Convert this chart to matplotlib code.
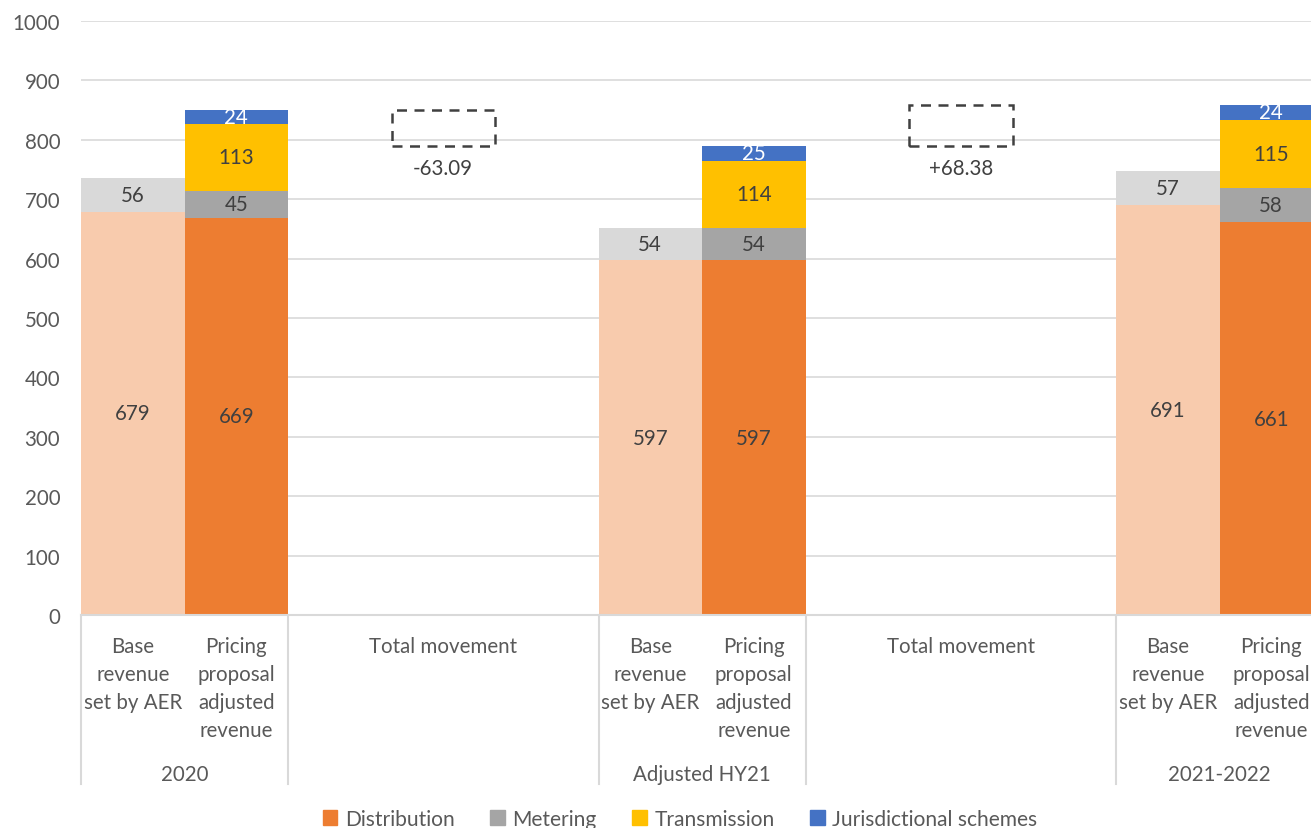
import matplotlib
matplotlib.use("Agg")
import matplotlib.pyplot as plt
import matplotlib.transforms as mtransforms
from matplotlib.patches import Patch
import numpy as np

plt.rcParams['font.family'] = ['Lato', 'DejaVu Sans']

# ---- data ----
periods = ["2020", "Adjusted HY21", "2021-2022"]
bar_labels = ["Base\nrevenue\nset by AER", "Pricing\nproposal\nadjusted\nrevenue"]
movement_label = "Total movement"
movement_values = ["-63.09", "+68.38"]

base_distribution = [679, 597, 691]
base_metering = [56, 54, 57]

pricing_distribution = [669, 597, 661]
pricing_metering = [45, 54, 58]
pricing_transmission = [113, 114, 115]
pricing_jurisdictional = [24, 25, 24]

series_names = ["Distribution", "Metering", "Transmission", "Jurisdictional schemes"]

# ---- style ----
C_DIST = "#ED7D31"
C_DIST_L = "#F8CBAD"
C_MET = "#A5A5A5"
C_MET_L = "#D9D9D9"
C_TRANS = "#FFC000"
C_JUR = "#4472C4"
LBL = "#404040"
AX = "#595959"
GRID = "#D9D9D9"
FS = 14.8

fig = plt.figure(figsize=(13.11, 8.29), dpi=100)
ax = fig.add_axes([81/1311, 1 - 616/829, 1 - 81/1311, (616 - 22)/829])

# slot positions: group g -> base at 5g, pricing at 5g+1, movement slots 5g+2..5g+4
base_x = np.array([0, 5, 10])
pricing_x = base_x + 1
move_x = np.array([3, 8])
w = 1.0

ax.set_ylim(0, 1000)
ax.set_xlim(-0.5, -0.5 + (1311 - 81) / 103.5)
ax.set_yticks(np.arange(0, 1001, 100))
ax.yaxis.grid(True, color=GRID, lw=1.2)
ax.set_axisbelow(True)
for s in ["top", "right", "left"]:
    ax.spines[s].set_visible(False)
ax.spines["bottom"].set_color(GRID)
ax.spines["bottom"].set_linewidth(1.5)
ax.tick_params(axis="y", length=0, pad=15, labelsize=FS, labelcolor=AX)
ax.tick_params(axis="x", length=0, labelbottom=False)

def seg_label(x, bottom, h, txt, color=LBL):
    ax.text(x, bottom + h / 2, txt, ha="center", va="center", fontsize=FS, color=color)

# base bars
ax.bar(base_x, base_distribution, width=w, color=C_DIST_L)
ax.bar(base_x, base_metering, width=w, bottom=base_distribution, color=C_MET_L)
for i, x in enumerate(base_x):
    seg_label(x, 0, base_distribution[i], str(base_distribution[i]))
    seg_label(x, base_distribution[i], base_metering[i], str(base_metering[i]))

# pricing bars
pd_ = np.array(pricing_distribution)
pm = np.array(pricing_metering)
pt = np.array(pricing_transmission)
pj = np.array(pricing_jurisdictional)
ax.bar(pricing_x, pd_, width=w, color=C_DIST)
ax.bar(pricing_x, pm, width=w, bottom=pd_, color=C_MET)
ax.bar(pricing_x, pt, width=w, bottom=pd_ + pm, color=C_TRANS)
ax.bar(pricing_x, pj, width=w, bottom=pd_ + pm + pt, color=C_JUR)
for i, x in enumerate(pricing_x):
    seg_label(x, 0, pd_[i], str(pd_[i]))
    seg_label(x, pd_[i], pm[i], str(pm[i]))
    seg_label(x, pd_[i] + pm[i], pt[i], str(pt[i]))
    seg_label(x, pd_[i] + pm[i] + pt[i], pj[i], str(pj[i]), color="white")

# movement boxes
totals = pd_ + pm + pt + pj
for k, x in enumerate(move_x):
    lo = min(totals[k], totals[k + 1])
    hi = max(totals[k], totals[k + 1])
    ax.bar(x, hi - lo, width=w, bottom=lo, fill=False, edgecolor=LBL,
           linestyle=(0, (4, 3)), linewidth=1.8)
    ax.text(x, lo - 38, movement_values[k], ha="center", va="center",
            fontsize=FS, color=LBL)

# category axis labels
trans = mtransforms.blended_transform_factory(ax.transData, ax.transAxes)
for g in range(3):
    for j in range(2):
        ax.annotate(bar_labels[j], xy=(base_x[g] + j, 0), xycoords=trans,
                    xytext=(0, -15), textcoords="offset points",
                    ha="center", va="top", fontsize=FS, color=AX,
                    linespacing=1.5, annotation_clip=False)
    ax.annotate(periods[g], xy=(base_x[g] + 0.5, 0), xycoords=trans,
                xytext=(0, -107), textcoords="offset points",
                ha="center", va="top", fontsize=FS, color=AX, annotation_clip=False)
for x in move_x:
    ax.annotate(movement_label, xy=(x, 0), xycoords=trans,
                xytext=(0, -15), textcoords="offset points",
                ha="center", va="top", fontsize=FS, color=AX, annotation_clip=False)

# separators
for xs in [-0.5, 1.5, 4.5, 6.5, 9.5, 11.5]:
    ax.plot([xs, xs], [0, -169 / 594], transform=trans, color=GRID, lw=1.5,
            clip_on=False)

# legend
handles = [Patch(color=c) for c in [C_DIST, C_MET, C_TRANS, C_JUR]]
fig.legend(handles, series_names, loc="center", bbox_to_anchor=(680 / 1311, 1 - 820 / 829),
           ncol=4, frameon=False, fontsize=FS + 0.3, handlelength=0.7, handleheight=0.7,
           handletextpad=0.35, columnspacing=1.7, labelcolor=AX)

fig.savefig("out.png", dpi=100)
